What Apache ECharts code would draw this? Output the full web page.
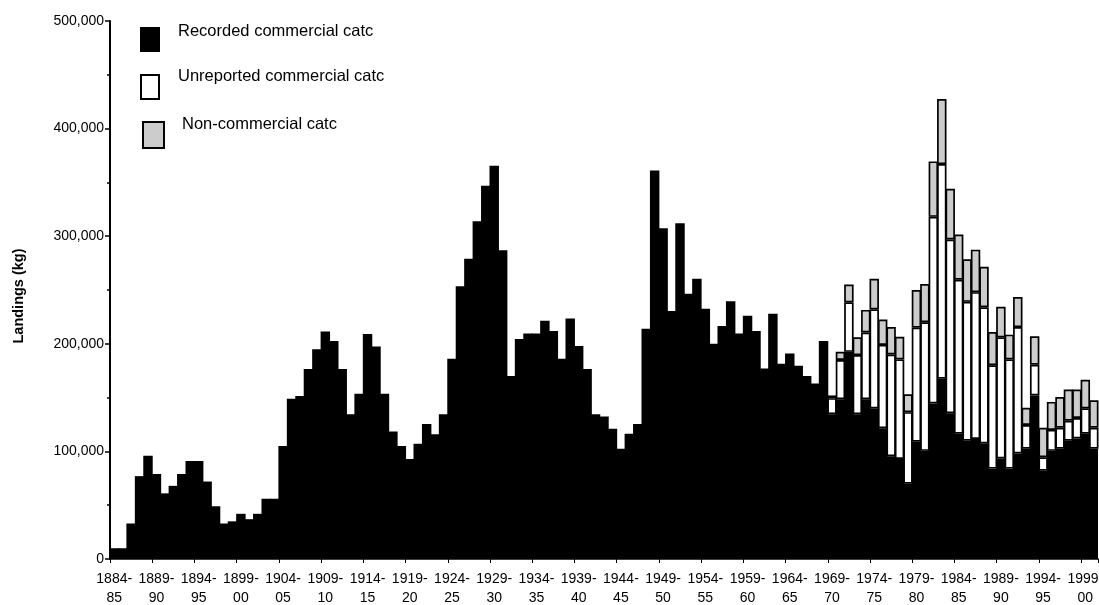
<!DOCTYPE html>
<html>
<head>
<meta charset="utf-8">
<title>Landings</title>
<script src="https://cdn.jsdelivr.net/npm/echarts@6/dist/echarts.min.js"></script>
<style>
  html, body { margin: 0; padding: 0; background: #ffffff; }
  #chart { width: 1099px; height: 605px; }
</style>
</head>
<body>
<div id="chart"></div>
<script>
// Fishing seasons, 1884-85 to 2000-01
const seasons = [
  '1884-85','1885-86','1886-87','1887-88','1888-89','1889-90','1890-91','1891-92','1892-93','1893-94',
  '1894-95','1895-96','1896-97','1897-98','1898-99','1899-00','1900-01','1901-02','1902-03','1903-04',
  '1904-05','1905-06','1906-07','1907-08','1908-09','1909-10','1910-11','1911-12','1912-13','1913-14',
  '1914-15','1915-16','1916-17','1917-18','1918-19','1919-20','1920-21','1921-22','1922-23','1923-24',
  '1924-25','1925-26','1926-27','1927-28','1928-29','1929-30','1930-31','1931-32','1932-33','1933-34',
  '1934-35','1935-36','1936-37','1937-38','1938-39','1939-40','1940-41','1941-42','1942-43','1943-44',
  '1944-45','1945-46','1946-47','1947-48','1948-49','1949-50','1950-51','1951-52','1952-53','1953-54',
  '1954-55','1955-56','1956-57','1957-58','1958-59','1959-60','1960-61','1961-62','1962-63','1963-64',
  '1964-65','1965-66','1966-67','1967-68','1968-69','1969-70','1970-71','1971-72','1972-73','1973-74',
  '1974-75','1975-76','1976-77','1977-78','1978-79','1979-80','1980-81','1981-82','1982-83','1983-84',
  '1984-85','1985-86','1986-87','1987-88','1988-89','1989-90','1990-91','1991-92','1992-93','1993-94',
  '1994-95','1995-96','1996-97','1997-98','1998-99','1999-00','2000-01'
];

// Recorded commercial catch (kg), every season
const recorded = [
  10000, 10000, 33000, 77000, 96000, 79000, 61000, 68000, 79000, 91000,
  91000, 72000, 49000, 33000, 35000, 42000, 37000, 42000, 56000, 56000,
  105000, 149000, 151500, 176500, 195000, 211500, 202500, 176500, 134500, 153500,
  209000, 197500, 153500, 118500, 105000, 93000, 107000, 125500, 116000, 134500,
  186000, 253500, 279000, 314000, 347000, 365500, 287000, 170000, 204500, 209500,
  209500, 221500, 212000, 186000, 223500, 198000, 176500, 134500, 132500, 121000,
  102500, 116500, 125500, 214000, 361000, 307500, 230500, 312000, 246500, 260500,
  232500, 200000, 216500, 239500, 209500, 226000, 212000, 177000, 228000, 181500,
  191000, 179500, 170000, 163000, 202500, 134500, 148500, 192500, 134500, 148500,
  140000, 121500, 95500, 93000, 70000, 109000, 100500, 144500, 167500, 135500,
  116500, 110000, 111500, 107500, 84000, 93500, 84000, 98000, 102500, 152000,
  82000, 100500, 102500, 110000, 112000, 116500, 102500
];

// Estimated catches (kg) are available from this season onwards
const estimatesFrom = '1969-70';

// Unreported commercial catch (kg), 1969-70 to 2000-01
const unreported = [
  15000, 36500, 46000, 55000, 62000, 92000, 77500, 94500, 92500, 66500,
  106000, 119500, 173500, 199500, 161500, 143000, 129000, 136500, 126500, 96000,
  112500, 101500, 117500, 22000, 28500, 12500, 19500, 19500, 18500, 19000,
  23500, 19500
];

// Non-commercial catch (kg), 1969-70 to 2000-01
const nonCommercial = [
  2500, 7500, 16500, 16500, 21000, 28500, 23500, 25500, 21000, 16500,
  35000, 35500, 51500, 60500, 47000, 42000, 39500, 39500, 37500, 31000,
  28500, 23000, 28000, 16000, 26500, 27500, 26000, 28500, 29000, 26500,
  26500, 25500
];

const seriesNames = ['Recorded commercial catch', 'Unreported commercial catch', 'Non-commercial catch'];
const seriesFills = ['#000000', '#ffffff', '#cccccc'];
const yMax = 500000;
const yStep = 100000;

// Align the partial series with the full season list
const offset = seasons.indexOf(estimatesFrom);
const pad = (arr) => seasons.map((_, i) => (i >= offset ? arr[i - offset] : null));

const font = '"Liberation Sans", Arial, Helvetica, sans-serif';
const chart = echarts.init(document.getElementById('chart'), null, { renderer: 'canvas' });

// Key boxes with their captions; the caption boxes are narrow, so the last letters are cut off
const keyItems = [
  { box: { x: 140, y: 27, width: 20, height: 25 }, stroke: null, text: { x: 178, y: 31, width: 199 } },
  { box: { x: 141, y: 75, width: 18, height: 24 }, stroke: '#000', text: { x: 178, y: 76, width: 210 } },
  { box: { x: 143, y: 122, width: 21, height: 26 }, stroke: '#000', text: { x: 182, y: 124, width: 159 } }
];
const keyGraphics = [];
keyItems.forEach((k, i) => {
  keyGraphics.push({
    type: 'rect', silent: true,
    shape: k.box,
    style: { fill: seriesFills[i], stroke: k.stroke || null, lineWidth: k.stroke ? 2 : 0 }
  });
  keyGraphics.push({
    type: 'text', silent: true,
    x: k.text.x, y: k.text.y,
    style: {
      text: seriesNames[i], fill: '#000', font: '16.5px ' + font,
      verticalAlign: 'middle', align: 'left',
      width: k.text.width, overflow: 'truncate', ellipsis: ''
    }
  });
});

chart.setOption({
  animation: false,
  backgroundColor: '#ffffff',
  textStyle: { fontFamily: font, color: '#000' },
  grid: { left: 110, right: 1, top: 21, bottom: 46, containLabel: false, outerBoundsMode: 'none' },
  graphic: keyGraphics,
  xAxis: {
    type: 'category',
    data: seasons,
    boundaryGap: true,
    axisLine: { show: true, lineStyle: { color: '#000', width: 1.5 } },
    axisTick: { show: true, interval: 4, length: 4, lineStyle: { color: '#000', width: 1 } },
    axisLabel: {
      interval: 4,
      formatter: (s) => s.replace('-', '-\n'),
      fontFamily: font, fontSize: 14, lineHeight: 19, color: '#000', margin: 11
    },
    splitLine: { show: false }
  },
  yAxis: {
    type: 'value',
    min: 0,
    max: yMax,
    interval: yStep,
    name: 'Landings (kg)',
    nameLocation: 'middle',
    nameRotate: 90,
    nameGap: 84,
    nameTextStyle: { fontFamily: font, fontSize: 14.5, fontWeight: 'bold', color: '#000', padding: [0, 12, 0, 0] },
    axisLine: { show: true, lineStyle: { color: '#000', width: 2 } },
    axisTick: { show: true, length: 5, lineStyle: { color: '#000', width: 1.5 } },
    minorTick: { show: true, splitNumber: 2, length: 3, lineStyle: { color: '#000', width: 1.5 } },
    axisLabel: {
      formatter: (v) => v.toLocaleString('en-US'),
      fontFamily: font, fontSize: 14, color: '#000', margin: 6
    },
    splitLine: { show: false },
    minorSplitLine: { show: false }
  },
  series: [
    {
      // bars slightly wider than their band so neighbours overlap and leave no seams
      name: seriesNames[0], type: 'bar', stack: 'catch', barCategoryGap: '-12%',
      itemStyle: { color: seriesFills[0], borderWidth: 0 },
      data: recorded
    },
    {
      name: seriesNames[1], type: 'bar', stack: 'catch', barCategoryGap: '-12%',
      itemStyle: { color: seriesFills[1], borderColor: '#000000', borderWidth: 1.7 },
      data: pad(unreported)
    },
    {
      name: seriesNames[2], type: 'bar', stack: 'catch', barCategoryGap: '-12%',
      itemStyle: { color: seriesFills[2], borderColor: '#000000', borderWidth: 1.7 },
      data: pad(nonCommercial)
    }
  ]
});
</script>
</body>
</html>
